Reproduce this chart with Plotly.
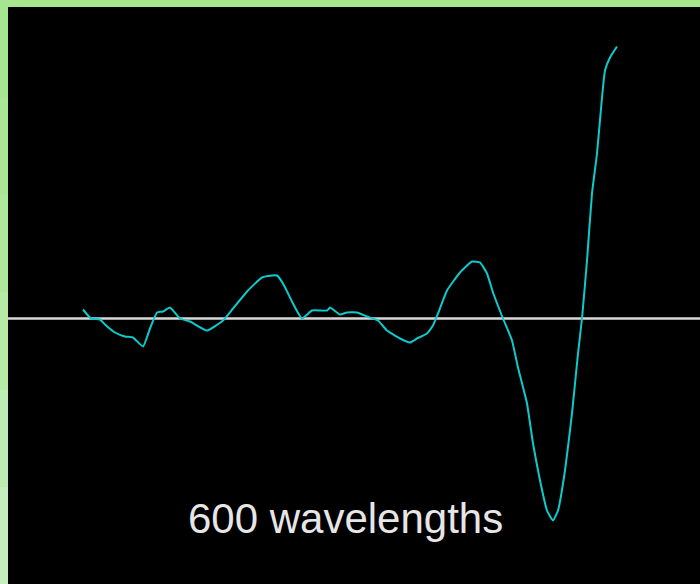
import plotly.graph_objects as go

# Wave trace: horizontal position along the medium and displacement from rest
position = [83, 91, 100, 105, 115, 125, 133, 143, 150, 157, 163, 170, 180, 190,
            207, 223, 233, 248, 262, 272, 277, 283, 293, 302, 312, 327, 330, 340,
            347, 357, 367, 378, 387, 400, 410, 417, 427, 433, 438, 447, 460, 472,
            480, 487, 493, 503, 512, 518, 527, 533, 540, 547, 553, 558, 565, 572,
            578, 582, 587, 592, 597, 602, 605, 610, 617]
displacement = [9, 0, -1, -6, -14, -18, -19, -28, -10, 6, 7, 11, 0, -3,
                -12, -2, 10, 28, 41, 43, 43, 35, 15, 0, 8, 8, 11, 4,
                6, 6, 2, -2, -12, -20, -24, -20, -15, -7, 5, 28, 46, 57,
                56, 45, 26, 0, -22, -49, -85, -125, -162, -192, -202, -192, -152, -95,
                -35, 0, 58, 125, 165, 221, 248, 261, 272]

label = "600 wavelengths"

W, H = 700, 584
BASE = 318.5  # rest line, measured from the top edge

fig = go.Figure()

# rest line
fig.add_trace(go.Scatter(x=[8, W], y=[0, 0], mode="lines",
                         line=dict(color="#d8d8d8", width=2.4),
                         hoverinfo="skip", showlegend=False))

# wave
fig.add_trace(go.Scatter(x=position, y=displacement, mode="lines",
                         line=dict(color="#0ccbcc", width=2, shape="spline",
                                   smoothing=0.4),
                         hoverinfo="skip", showlegend=False))

shapes = [
    # black viewing panel inside the green frame
    dict(type="rect", xref="paper", yref="paper", x0=8 / W, x1=1, y0=0, y1=1 - 7 / H,
         fillcolor="#000000", line=dict(width=0), layer="below"),
]
# left frame strip fades lighter toward the bottom
bands = ["#a6e68e", "#a9e794", "#aee89c", "#b5eba6", "#bdedb2", "#c5f0bd"]
n = len(bands)
for i, c in enumerate(bands):
    shapes.append(dict(type="rect", xref="paper", yref="paper",
                       x0=0, x1=8 / W, y0=1 - (i + 1) / n, y1=1 - i / n,
                       fillcolor=c, line=dict(width=0), layer="below"))

fig.update_layout(
    width=W, height=H,
    margin=dict(l=0, r=0, t=0, b=0),
    paper_bgcolor="#a6e68e",
    plot_bgcolor="rgba(0,0,0,0)",
    shapes=shapes,
    xaxis=dict(range=[0, W], visible=False, fixedrange=True),
    yaxis=dict(range=[BASE - H, BASE], visible=False, fixedrange=True),
    annotations=[dict(x=345, y=BASE - 518, xref="x", yref="y", text=label,
                      showarrow=False, xanchor="center", yanchor="middle",
                      font=dict(family="Liberation Sans, Arial", size=42,
                                color="#e6e6e6"))],
)

fig.write_html("out.html")
